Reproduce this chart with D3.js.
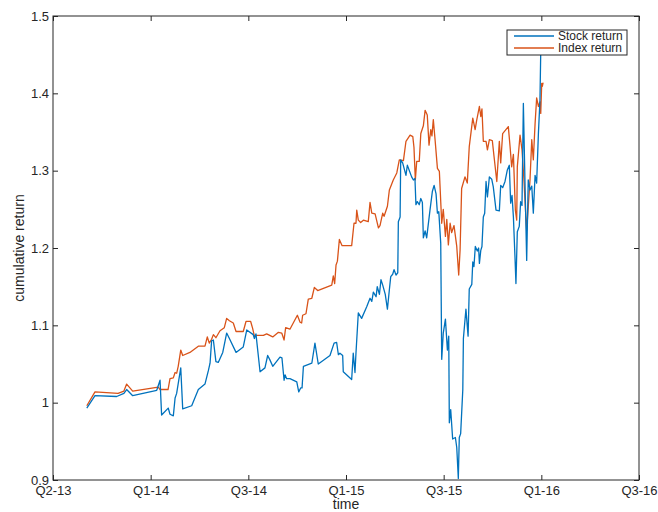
<!DOCTYPE html>
<html>
<head>
<meta charset="utf-8">
<script src="https://cdn.jsdelivr.net/npm/d3@7"></script>
<style>
    body { margin: 0; background: #fff; }
    #chart { width: 658px; height: 512px; }
    text { font-family: "Liberation Sans", Arial, Helvetica, sans-serif; fill: #262626; }
    .tick line { stroke: #262626; }
</style>
</head>
<body>
<div id="chart"></div>
<script>
// time is in decimal years, value is cumulative return
var stockSeries = [
    [2013.673, 0.993], [2013.715, 1.009], [2013.826, 1.008], [2013.863, 1.012], [2013.877, 1.017],
    [2013.908, 1.009], [2014.031, 1.016], [2014.048, 1.029], [2014.056, 0.984], [2014.090, 0.993],
    [2014.099, 0.985], [2014.116, 0.983], [2014.125, 1.006], [2014.133, 1.012], [2014.154, 1.045],
    [2014.164, 0.992], [2014.210, 0.996], [2014.244, 1.017], [2014.278, 1.024], [2014.295, 1.041],
    [2014.304, 1.051], [2014.312, 1.080], [2014.321, 1.081], [2014.334, 1.053], [2014.346, 1.052],
    [2014.369, 1.065], [2014.389, 1.090], [2014.403, 1.083], [2014.437, 1.065], [2014.474, 1.072],
    [2014.492, 1.094], [2014.525, 1.088], [2014.531, 1.083], [2014.539, 1.089], [2014.560, 1.040],
    [2014.585, 1.045], [2014.599, 1.061], [2014.611, 1.055], [2014.625, 1.047], [2014.662, 1.059],
    [2014.672, 1.058], [2014.683, 1.029], [2014.688, 1.036], [2014.696, 1.031], [2014.713, 1.031],
    [2014.748, 1.027], [2014.758, 1.014], [2014.768, 1.019], [2014.775, 1.019], [2014.782, 1.047],
    [2014.825, 1.051], [2014.841, 1.077], [2014.858, 1.050], [2014.918, 1.061], [2014.939, 1.077],
    [2014.952, 1.078], [2014.961, 1.062], [2014.969, 1.064], [2014.983, 1.061], [2014.986, 1.040],
    [2015.029, 1.030], [2015.037, 1.064], [2015.046, 1.039], [2015.051, 1.064], [2015.063, 1.116],
    [2015.080, 1.109], [2015.106, 1.124], [2015.123, 1.135], [2015.132, 1.131], [2015.140, 1.143],
    [2015.154, 1.137], [2015.160, 1.150], [2015.171, 1.140], [2015.179, 1.159], [2015.188, 1.152],
    [2015.201, 1.140], [2015.212, 1.121], [2015.222, 1.146], [2015.229, 1.163], [2015.239, 1.166],
    [2015.246, 1.172], [2015.256, 1.165], [2015.265, 1.168], [2015.268, 1.234], [2015.277, 1.240],
    [2015.280, 1.314], [2015.290, 1.310], [2015.307, 1.294], [2015.314, 1.307], [2015.336, 1.292],
    [2015.345, 1.288], [2015.353, 1.290], [2015.358, 1.256], [2015.365, 1.260], [2015.375, 1.256],
    [2015.383, 1.264], [2015.391, 1.259], [2015.396, 1.213], [2015.405, 1.222], [2015.413, 1.213],
    [2015.430, 1.249], [2015.442, 1.273], [2015.451, 1.281], [2015.461, 1.270], [2015.468, 1.245],
    [2015.475, 1.247], [2015.485, 1.206], [2015.490, 1.056], [2015.498, 1.090], [2015.509, 1.108],
    [2015.519, 1.068], [2015.526, 1.086], [2015.529, 0.974], [2015.536, 0.991], [2015.546, 0.953],
    [2015.560, 0.955], [2015.567, 0.942], [2015.575, 0.902], [2015.580, 0.955], [2015.587, 0.960],
    [2015.598, 1.017], [2015.601, 1.083], [2015.614, 1.121], [2015.625, 1.086], [2015.631, 1.147],
    [2015.644, 1.153], [2015.649, 1.182], [2015.655, 1.176], [2015.662, 1.202], [2015.672, 1.196],
    [2015.679, 1.200], [2015.683, 1.180], [2015.690, 1.197], [2015.696, 1.202], [2015.703, 1.240],
    [2015.710, 1.245], [2015.717, 1.286], [2015.724, 1.266], [2015.734, 1.292], [2015.746, 1.289],
    [2015.754, 1.279], [2015.768, 1.249], [2015.785, 1.248], [2015.792, 1.281], [2015.802, 1.278],
    [2015.814, 1.286], [2015.826, 1.301], [2015.836, 1.307], [2015.843, 1.258], [2015.850, 1.268],
    [2015.857, 1.240], [2015.865, 1.189], [2015.870, 1.154], [2015.877, 1.221], [2015.887, 1.228],
    [2015.894, 1.260], [2015.901, 1.255], [2015.908, 1.387], [2015.916, 1.288], [2015.925, 1.184],
    [2015.933, 1.288], [2015.942, 1.275], [2015.951, 1.280], [2015.959, 1.245], [2015.968, 1.294],
    [2015.976, 1.284], [2015.985, 1.348], [2015.993, 1.391], [2015.998, 1.470]
];

var indexSeries = [
    [2013.673, 0.996], [2013.715, 1.014], [2013.833, 1.012], [2013.863, 1.015], [2013.877, 1.024],
    [2013.908, 1.015], [2014.039, 1.020], [2014.048, 1.017], [2014.089, 1.017], [2014.099, 1.031],
    [2014.116, 1.032], [2014.125, 1.039], [2014.133, 1.038], [2014.141, 1.047], [2014.154, 1.068],
    [2014.164, 1.061], [2014.201, 1.065], [2014.244, 1.073], [2014.278, 1.073], [2014.290, 1.085],
    [2014.300, 1.077], [2014.312, 1.082], [2014.321, 1.088], [2014.334, 1.084], [2014.355, 1.093],
    [2014.377, 1.097], [2014.389, 1.109], [2014.403, 1.106], [2014.423, 1.103], [2014.437, 1.092],
    [2014.474, 1.092], [2014.488, 1.105], [2014.512, 1.105], [2014.522, 1.096], [2014.531, 1.086],
    [2014.543, 1.087], [2014.577, 1.087], [2014.594, 1.089], [2014.625, 1.085], [2014.654, 1.091],
    [2014.671, 1.090], [2014.683, 1.081], [2014.691, 1.097], [2014.713, 1.095], [2014.751, 1.113],
    [2014.765, 1.104], [2014.773, 1.103], [2014.778, 1.113], [2014.795, 1.115], [2014.807, 1.134],
    [2014.825, 1.135], [2014.838, 1.149], [2014.855, 1.145], [2014.927, 1.152], [2014.935, 1.164],
    [2014.942, 1.154], [2014.949, 1.178], [2014.956, 1.183], [2014.966, 1.211], [2014.980, 1.203],
    [2015.029, 1.203], [2015.041, 1.232], [2015.051, 1.232], [2015.055, 1.249], [2015.063, 1.236],
    [2015.075, 1.233], [2015.089, 1.236], [2015.114, 1.234], [2015.123, 1.259], [2015.132, 1.245],
    [2015.149, 1.244], [2015.166, 1.226], [2015.174, 1.229], [2015.188, 1.245], [2015.195, 1.241],
    [2015.212, 1.254], [2015.222, 1.275], [2015.242, 1.288], [2015.260, 1.297], [2015.273, 1.314],
    [2015.294, 1.313], [2015.307, 1.338], [2015.328, 1.346], [2015.342, 1.344], [2015.348, 1.330],
    [2015.355, 1.288], [2015.362, 1.312], [2015.375, 1.312], [2015.383, 1.348], [2015.396, 1.358],
    [2015.405, 1.378], [2015.416, 1.372], [2015.425, 1.333], [2015.434, 1.353], [2015.440, 1.345],
    [2015.447, 1.366], [2015.456, 1.340], [2015.468, 1.303], [2015.478, 1.299], [2015.490, 1.232],
    [2015.498, 1.250], [2015.509, 1.215], [2015.516, 1.237], [2015.524, 1.204], [2015.533, 1.232],
    [2015.541, 1.220], [2015.553, 1.229], [2015.567, 1.202], [2015.577, 1.165], [2015.584, 1.197],
    [2015.592, 1.277], [2015.609, 1.292], [2015.621, 1.284], [2015.631, 1.331], [2015.649, 1.368],
    [2015.661, 1.353], [2015.669, 1.365], [2015.683, 1.383], [2015.690, 1.370], [2015.696, 1.380],
    [2015.703, 1.338], [2015.717, 1.338], [2015.724, 1.327], [2015.734, 1.340], [2015.749, 1.339],
    [2015.758, 1.318], [2015.772, 1.286], [2015.785, 1.338], [2015.792, 1.310], [2015.802, 1.348],
    [2015.831, 1.357], [2015.840, 1.331], [2015.848, 1.305], [2015.857, 1.321], [2015.867, 1.249],
    [2015.874, 1.236], [2015.877, 1.305], [2015.891, 1.346], [2015.901, 1.327], [2015.911, 1.288],
    [2015.918, 1.253], [2015.925, 1.223], [2015.933, 1.253], [2015.942, 1.288], [2015.951, 1.340],
    [2015.959, 1.314], [2015.968, 1.361], [2015.976, 1.394], [2015.985, 1.383], [2015.993, 1.389],
    [2015.997, 1.374], [2016.002, 1.413], [2016.005, 1.409], [2016.009, 1.414]
];

var xTicks = [2013.5, 2014, 2014.5, 2015, 2015.5, 2016, 2016.5];
var xTickLabels = ["Q2-13", "Q1-14", "Q3-14", "Q1-15", "Q3-15", "Q1-16", "Q3-16"];
var yTicks = [0.9, 1.0, 1.1, 1.2, 1.3, 1.4, 1.5];
var yTickLabels = ["0.9", "1", "1.1", "1.2", "1.3", "1.4", "1.5"];
var seriesNames = ["Stock return", "Index return"];
var seriesColors = ["#0072BD", "#D95319"];

function drawChart() {
    var divElement = document.getElementById("chart");
    var width = 658;
    var height = 512;
    var left = 53, right = 639, top = 16, bottom = 480;

    var svg = d3.select(divElement)
        .append("svg")
        .attr("width", width)
        .attr("height", height);

    var xScale = d3.scaleLinear().domain([2013.5, 2016.5]).range([left, right]);
    var yScale = d3.scaleLinear().domain([0.9, 1.5]).range([bottom, top]);

    svg.append("clipPath")
        .attr("id", "plot-clip")
        .append("rect")
        .attr("x", left)
        .attr("y", top)
        .attr("width", right - left)
        .attr("height", bottom - top);

    var line = d3.line()
        .x(d => xScale(d[0]))
        .y(d => yScale(d[1]));

    // index first so stock sits on top like the reference
    [indexSeries, stockSeries].forEach(function(s, i) {
        svg.append("path")
            .datum(s)
            .attr("clip-path", "url(#plot-clip)")
            .attr("fill", "none")
            .attr("stroke", i === 0 ? seriesColors[1] : seriesColors[0])
            .attr("stroke-width", 1.3)
            .attr("stroke-linejoin", "round")
            .attr("d", line);
    });

    var fmtX = (d, i) => xTickLabels[i];
    var fmtY = (d, i) => yTickLabels[i];

    // axes, ticks pointing inward on all four sides
    svg.append("g")
        .attr("transform", `translate(0, ${bottom})`)
        .call(d3.axisBottom(xScale).tickValues(xTicks).tickFormat(fmtX).tickSizeInner(-5).tickSizeOuter(0).tickPadding(6));
    svg.append("g")
        .attr("transform", `translate(0, ${top})`)
        .call(d3.axisTop(xScale).tickValues(xTicks).tickFormat("").tickSizeInner(-5).tickSizeOuter(0));
    svg.append("g")
        .attr("transform", `translate(${left}, 0)`)
        .call(d3.axisLeft(yScale).tickValues(yTicks).tickFormat(fmtY).tickSizeInner(-5).tickSizeOuter(0).tickPadding(4));
    svg.append("g")
        .attr("transform", `translate(${right}, 0)`)
        .call(d3.axisRight(yScale).tickValues(yTicks).tickFormat("").tickSizeInner(-5).tickSizeOuter(0));

    svg.selectAll(".domain").remove();
    svg.selectAll(".tick text")
        .style("font-size", "13px")
        .attr("fill", "#262626");

    svg.append("rect")
        .attr("x", left)
        .attr("y", top)
        .attr("width", right - left)
        .attr("height", bottom - top)
        .attr("fill", "none")
        .attr("stroke", "#262626")
        .attr("stroke-width", 1);

    svg.append("text")
        .attr("x", (left + right) / 2)
        .attr("y", 509)
        .attr("text-anchor", "middle")
        .style("font-size", "14px")
        .text("time");

    svg.append("text")
        .attr("transform", `translate(24, ${(top + bottom) / 2}) rotate(-90)`)
        .attr("text-anchor", "middle")
        .style("font-size", "14px")
        .text("cumulative return");

    // legend
    var legend = svg.append("g").attr("transform", "translate(507, 30)");
    legend.append("rect")
        .attr("width", 120)
        .attr("height", 25)
        .attr("fill", "#fff")
        .attr("stroke", "#262626")
        .attr("stroke-width", 1);
    seriesNames.forEach(function(name, i) {
        var y = 6 + i * 12;
        legend.append("line")
            .attr("x1", 7).attr("x2", 47)
            .attr("y1", y).attr("y2", y)
            .attr("stroke", seriesColors[i])
            .attr("stroke-width", 1.3);
        legend.append("text")
            .attr("x", 51)
            .attr("y", y)
            .attr("dy", "0.35em")
            .style("font-size", "12px")
            .text(name);
    });
}

drawChart();
</script>
</body>
</html>
